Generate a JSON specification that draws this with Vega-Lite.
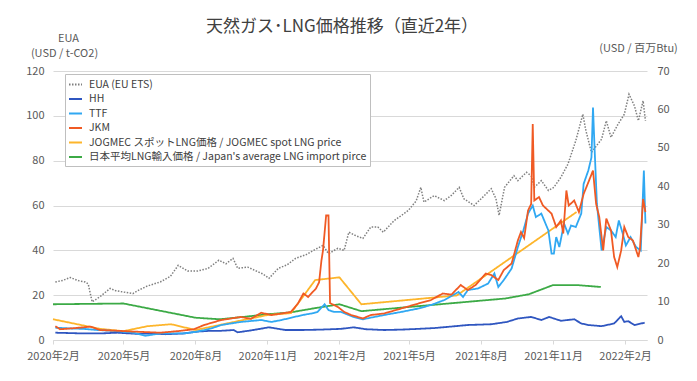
{
  "$schema": "https://vega.github.io/schema/vega-lite/v6.json",
  "width": 594,
  "height": 269,
  "autosize": {"type": "none"},
  "padding": {"left": 53, "top": 71, "right": 50, "bottom": 41},
  "background": "white",
  "title": {"text": "天然ガス･LNG価格推移（直近2年）", "font": "Noto Sans CJK JP", "fontSize": 17, "fontWeight": "normal", "color": "#404040", "anchor": "middle", "frame": "group", "offset": -4, "dx": -8},
  "config": {
    "view": {"stroke": null},
    "font": "Noto Sans CJK JP",
    "axis": {"labelFont": "Noto Sans CJK JP", "labelFontSize": 11, "labelColor": "#595959", "titleFont": "Noto Sans CJK JP", "titleFontSize": 11, "titleColor": "#595959", "titleFontWeight": "normal"},
    "legend": {"labelFont": "Noto Sans CJK JP", "labelFontSize": 10.5, "labelColor": "#404040", "labelLimit": 0}
  },
  "data": {"values": [
    {"s":"EUA","d":"2020-02-04","v":25.9},{"s":"EUA","d":"2020-02-13","v":26.5},{"s":"EUA","d":"2020-02-23","v":27.9},{"s":"EUA","d":"2020-03-04","v":26.5},{"s":"EUA","d":"2020-03-13","v":25.9},{"s":"EUA","d":"2020-03-17","v":25.0},{"s":"EUA","d":"2020-03-22","v":17.0},{"s":"EUA","d":"2020-04-01","v":19.3},{"s":"EUA","d":"2020-04-14","v":23.0},{"s":"EUA","d":"2020-04-21","v":22.0},{"s":"EUA","d":"2020-04-29","v":21.5},{"s":"EUA","d":"2020-05-13","v":20.7},{"s":"EUA","d":"2020-05-22","v":22.5},{"s":"EUA","d":"2020-05-31","v":24.0},{"s":"EUA","d":"2020-06-17","v":25.9},{"s":"EUA","d":"2020-06-30","v":28.4},{"s":"EUA","d":"2020-07-10","v":33.3},{"s":"EUA","d":"2020-07-22","v":30.8},{"s":"EUA","d":"2020-08-04","v":30.8},{"s":"EUA","d":"2020-08-17","v":31.9},{"s":"EUA","d":"2020-08-31","v":35.6},{"s":"EUA","d":"2020-09-09","v":34.0},{"s":"EUA","d":"2020-09-18","v":36.4},{"s":"EUA","d":"2020-09-24","v":32.0},{"s":"EUA","d":"2020-10-07","v":32.5},{"s":"EUA","d":"2020-10-20","v":30.4},{"s":"EUA","d":"2020-10-26","v":29.5},{"s":"EUA","d":"2020-11-03","v":27.5},{"s":"EUA","d":"2020-11-15","v":32.0},{"s":"EUA","d":"2020-11-26","v":33.5},{"s":"EUA","d":"2020-12-07","v":36.4},{"s":"EUA","d":"2020-12-20","v":38.0},{"s":"EUA","d":"2020-12-30","v":40.0},{"s":"EUA","d":"2021-01-11","v":42.2},{"s":"EUA","d":"2021-01-18","v":38.5},{"s":"EUA","d":"2021-01-30","v":40.9},{"s":"EUA","d":"2021-02-07","v":40.0},{"s":"EUA","d":"2021-02-13","v":48.1},{"s":"EUA","d":"2021-02-22","v":46.5},{"s":"EUA","d":"2021-03-03","v":45.3},{"s":"EUA","d":"2021-03-13","v":50.4},{"s":"EUA","d":"2021-03-22","v":50.4},{"s":"EUA","d":"2021-03-29","v":48.1},{"s":"EUA","d":"2021-04-12","v":53.3},{"s":"EUA","d":"2021-04-21","v":55.5},{"s":"EUA","d":"2021-04-30","v":57.8},{"s":"EUA","d":"2021-05-10","v":62.0},{"s":"EUA","d":"2021-05-16","v":68.1},{"s":"EUA","d":"2021-05-20","v":61.5},{"s":"EUA","d":"2021-06-02","v":64.4},{"s":"EUA","d":"2021-06-15","v":62.2},{"s":"EUA","d":"2021-06-24","v":64.5},{"s":"EUA","d":"2021-07-04","v":68.1},{"s":"EUA","d":"2021-07-10","v":63.0},{"s":"EUA","d":"2021-07-23","v":60.0},{"s":"EUA","d":"2021-08-04","v":64.0},{"s":"EUA","d":"2021-08-14","v":67.5},{"s":"EUA","d":"2021-08-20","v":63.0},{"s":"EUA","d":"2021-08-24","v":55.6},{"s":"EUA","d":"2021-08-31","v":68.1},{"s":"EUA","d":"2021-09-12","v":73.3},{"s":"EUA","d":"2021-09-17","v":71.1},{"s":"EUA","d":"2021-09-28","v":74.8},{"s":"EUA","d":"2021-10-04","v":73.3},{"s":"EUA","d":"2021-10-08","v":68.1},{"s":"EUA","d":"2021-10-17","v":71.1},{"s":"EUA","d":"2021-10-26","v":66.7},{"s":"EUA","d":"2021-11-02","v":68.1},{"s":"EUA","d":"2021-11-11","v":72.6},{"s":"EUA","d":"2021-11-20","v":78.5},{"s":"EUA","d":"2021-11-30","v":88.9},{"s":"EUA","d":"2021-12-09","v":100.7},{"s":"EUA","d":"2021-12-13","v":93.3},{"s":"EUA","d":"2021-12-20","v":83.7},{"s":"EUA","d":"2022-01-02","v":89.6},{"s":"EUA","d":"2022-01-08","v":97.8},{"s":"EUA","d":"2022-01-14","v":90.4},{"s":"EUA","d":"2022-01-23","v":96.3},{"s":"EUA","d":"2022-01-31","v":100.7},{"s":"EUA","d":"2022-02-06","v":109.6},{"s":"EUA","d":"2022-02-13","v":104.4},{"s":"EUA","d":"2022-02-18","v":97.8},{"s":"EUA","d":"2022-02-24","v":106.7},{"s":"EUA","d":"2022-02-27","v":97.8},

    {"s":"JPN","d":"2020-02-01","v":9.3},{"s":"JPN","d":"2020-05-01","v":9.5},{"s":"JPN","d":"2020-08-01","v":5.8},{"s":"JPN","d":"2020-09-01","v":5.4},{"s":"JPN","d":"2020-10-01","v":6.0},{"s":"JPN","d":"2020-11-01","v":6.7},{"s":"JPN","d":"2020-12-01","v":7.2},{"s":"JPN","d":"2021-01-01","v":8.3},{"s":"JPN","d":"2021-02-01","v":9.3},{"s":"JPN","d":"2021-03-01","v":7.5},{"s":"JPN","d":"2021-09-01","v":10.8},{"s":"JPN","d":"2021-10-01","v":11.9},{"s":"JPN","d":"2021-11-01","v":14.3},{"s":"JPN","d":"2021-12-01","v":14.3},{"s":"JPN","d":"2022-01-01","v":13.8},

    {"s":"JOG","d":"2020-02-01","v":5.4},{"s":"JOG","d":"2020-04-01","v":2.9},{"s":"JOG","d":"2020-05-01","v":2.3},{"s":"JOG","d":"2020-06-01","v":3.6},{"s":"JOG","d":"2020-07-01","v":4.1},{"s":"JOG","d":"2020-08-01","v":2.6},{"s":"JOG","d":"2020-09-01","v":3.9},{"s":"JOG","d":"2020-10-01","v":5.2},{"s":"JOG","d":"2020-11-01","v":6.5},{"s":"JOG","d":"2020-12-01","v":7.0},{"s":"JOG","d":"2021-01-01","v":15.6},{"s":"JOG","d":"2021-02-01","v":16.3},{"s":"JOG","d":"2021-03-01","v":9.3},{"s":"JOG","d":"2021-07-01","v":11.6},{"s":"JOG","d":"2021-12-01","v":33.3},

    {"s":"HH","d":"2020-02-04","v":1.9},{"s":"HH","d":"2020-02-23","v":1.8},{"s":"HH","d":"2020-03-11","v":1.7},{"s":"HH","d":"2020-04-01","v":1.7},{"s":"HH","d":"2020-04-23","v":1.9},{"s":"HH","d":"2020-05-18","v":1.6},{"s":"HH","d":"2020-06-04","v":1.7},{"s":"HH","d":"2020-06-24","v":1.5},{"s":"HH","d":"2020-07-17","v":1.7},{"s":"HH","d":"2020-08-04","v":2.2},{"s":"HH","d":"2020-08-21","v":2.4},{"s":"HH","d":"2020-09-03","v":2.4},{"s":"HH","d":"2020-09-19","v":2.6},{"s":"HH","d":"2020-09-24","v":2.0},{"s":"HH","d":"2020-10-11","v":2.5},{"s":"HH","d":"2020-11-03","v":3.3},{"s":"HH","d":"2020-11-24","v":2.6},{"s":"HH","d":"2020-12-16","v":2.6},{"s":"HH","d":"2021-01-08","v":2.7},{"s":"HH","d":"2021-02-03","v":2.9},{"s":"HH","d":"2021-02-19","v":3.3},{"s":"HH","d":"2021-03-07","v":2.8},{"s":"HH","d":"2021-03-30","v":2.6},{"s":"HH","d":"2021-04-21","v":2.7},{"s":"HH","d":"2021-05-13","v":2.9},{"s":"HH","d":"2021-06-02","v":3.1},{"s":"HH","d":"2021-06-24","v":3.5},{"s":"HH","d":"2021-07-15","v":3.9},{"s":"HH","d":"2021-08-14","v":4.1},{"s":"HH","d":"2021-09-03","v":4.7},{"s":"HH","d":"2021-09-17","v":5.6},{"s":"HH","d":"2021-10-04","v":6.0},{"s":"HH","d":"2021-10-17","v":5.2},{"s":"HH","d":"2021-10-27","v":6.0},{"s":"HH","d":"2021-11-11","v":5.0},{"s":"HH","d":"2021-11-28","v":5.4},{"s":"HH","d":"2021-12-07","v":4.3},{"s":"HH","d":"2021-12-16","v":3.9},{"s":"HH","d":"2022-01-02","v":3.6},{"s":"HH","d":"2022-01-18","v":4.3},{"s":"HH","d":"2022-01-27","v":6.2},{"s":"HH","d":"2022-01-31","v":4.7},{"s":"HH","d":"2022-02-05","v":4.9},{"s":"HH","d":"2022-02-13","v":3.9},{"s":"HH","d":"2022-02-26","v":4.5},

    {"s":"TTF","d":"2020-02-04","v":3.2},{"s":"TTF","d":"2020-02-23","v":3.0},{"s":"TTF","d":"2020-03-11","v":2.9},{"s":"TTF","d":"2020-03-29","v":2.6},{"s":"TTF","d":"2020-04-23","v":2.3},{"s":"TTF","d":"2020-05-10","v":2.0},{"s":"TTF","d":"2020-05-18","v":1.7},{"s":"TTF","d":"2020-05-29","v":1.1},{"s":"TTF","d":"2020-06-17","v":1.7},{"s":"TTF","d":"2020-07-17","v":1.7},{"s":"TTF","d":"2020-08-04","v":2.2},{"s":"TTF","d":"2020-08-21","v":3.0},{"s":"TTF","d":"2020-09-03","v":3.9},{"s":"TTF","d":"2020-09-28","v":4.7},{"s":"TTF","d":"2020-10-24","v":5.2},{"s":"TTF","d":"2020-11-06","v":4.7},{"s":"TTF","d":"2020-11-19","v":5.2},{"s":"TTF","d":"2020-12-16","v":6.5},{"s":"TTF","d":"2020-12-30","v":7.0},{"s":"TTF","d":"2021-01-04","v":7.3},{"s":"TTF","d":"2021-01-13","v":9.3},{"s":"TTF","d":"2021-01-18","v":7.8},{"s":"TTF","d":"2021-01-25","v":7.3},{"s":"TTF","d":"2021-02-03","v":7.3},{"s":"TTF","d":"2021-02-19","v":6.0},{"s":"TTF","d":"2021-03-03","v":5.4},{"s":"TTF","d":"2021-03-30","v":6.5},{"s":"TTF","d":"2021-04-21","v":7.3},{"s":"TTF","d":"2021-05-13","v":8.2},{"s":"TTF","d":"2021-05-29","v":9.1},{"s":"TTF","d":"2021-06-15","v":10.4},{"s":"TTF","d":"2021-07-03","v":12.5},{"s":"TTF","d":"2021-07-09","v":11.2},{"s":"TTF","d":"2021-07-15","v":13.0},{"s":"TTF","d":"2021-07-28","v":13.4},{"s":"TTF","d":"2021-08-10","v":14.7},{"s":"TTF","d":"2021-08-18","v":17.3},{"s":"TTF","d":"2021-08-23","v":13.8},{"s":"TTF","d":"2021-08-30","v":15.6},{"s":"TTF","d":"2021-09-09","v":18.6},{"s":"TTF","d":"2021-09-17","v":24.2},{"s":"TTF","d":"2021-09-24","v":28.5},{"s":"TTF","d":"2021-09-30","v":32.9},{"s":"TTF","d":"2021-10-06","v":35.0},{"s":"TTF","d":"2021-10-10","v":32.0},{"s":"TTF","d":"2021-10-17","v":32.9},{"s":"TTF","d":"2021-10-26","v":28.5},{"s":"TTF","d":"2021-10-30","v":22.5},{"s":"TTF","d":"2021-11-02","v":22.5},{"s":"TTF","d":"2021-11-05","v":26.8},{"s":"TTF","d":"2021-11-09","v":24.2},{"s":"TTF","d":"2021-11-15","v":30.3},{"s":"TTF","d":"2021-11-20","v":27.7},{"s":"TTF","d":"2021-11-24","v":29.8},{"s":"TTF","d":"2021-11-30","v":29.4},{"s":"TTF","d":"2021-12-07","v":32.9},{"s":"TTF","d":"2021-12-10","v":40.6},{"s":"TTF","d":"2021-12-16","v":44.1},{"s":"TTF","d":"2021-12-20","v":47.5},{"s":"TTF","d":"2021-12-22","v":60.5},{"s":"TTF","d":"2021-12-24","v":50.0},{"s":"TTF","d":"2021-12-27","v":35.4},{"s":"TTF","d":"2022-01-02","v":23.3},{"s":"TTF","d":"2022-01-08","v":29.4},{"s":"TTF","d":"2022-01-14","v":28.5},{"s":"TTF","d":"2022-01-20","v":26.8},{"s":"TTF","d":"2022-01-24","v":31.1},{"s":"TTF","d":"2022-01-29","v":27.7},{"s":"TTF","d":"2022-02-02","v":24.6},{"s":"TTF","d":"2022-02-08","v":26.8},{"s":"TTF","d":"2022-02-15","v":24.2},{"s":"TTF","d":"2022-02-21","v":23.3},{"s":"TTF","d":"2022-02-25","v":44.1},{"s":"TTF","d":"2022-02-27","v":30.3},

    {"s":"JKM","d":"2020-02-04","v":3.6},{"s":"JKM","d":"2020-02-10","v":2.8},{"s":"JKM","d":"2020-02-23","v":3.0},{"s":"JKM","d":"2020-03-11","v":3.3},{"s":"JKM","d":"2020-03-20","v":3.5},{"s":"JKM","d":"2020-04-01","v":2.6},{"s":"JKM","d":"2020-04-23","v":2.4},{"s":"JKM","d":"2020-05-13","v":2.2},{"s":"JKM","d":"2020-06-17","v":1.9},{"s":"JKM","d":"2020-07-09","v":2.3},{"s":"JKM","d":"2020-07-30","v":2.8},{"s":"JKM","d":"2020-08-12","v":3.9},{"s":"JKM","d":"2020-09-03","v":5.2},{"s":"JKM","d":"2020-09-28","v":6.0},{"s":"JKM","d":"2020-10-11","v":5.5},{"s":"JKM","d":"2020-10-24","v":7.1},{"s":"JKM","d":"2020-11-06","v":6.5},{"s":"JKM","d":"2020-11-19","v":6.9},{"s":"JKM","d":"2020-12-01","v":7.3},{"s":"JKM","d":"2020-12-10","v":9.5},{"s":"JKM","d":"2020-12-17","v":12.1},{"s":"JKM","d":"2020-12-23","v":11.2},{"s":"JKM","d":"2021-01-02","v":13.4},{"s":"JKM","d":"2021-01-06","v":15.0},{"s":"JKM","d":"2021-01-09","v":20.7},{"s":"JKM","d":"2021-01-11","v":23.3},{"s":"JKM","d":"2021-01-15","v":32.4},{"s":"JKM","d":"2021-01-18","v":32.4},{"s":"JKM","d":"2021-01-20","v":9.6},{"s":"JKM","d":"2021-01-30","v":8.6},{"s":"JKM","d":"2021-02-07","v":7.3},{"s":"JKM","d":"2021-02-16","v":6.5},{"s":"JKM","d":"2021-03-03","v":5.6},{"s":"JKM","d":"2021-03-13","v":6.5},{"s":"JKM","d":"2021-03-30","v":6.9},{"s":"JKM","d":"2021-04-21","v":8.2},{"s":"JKM","d":"2021-05-13","v":9.5},{"s":"JKM","d":"2021-05-29","v":10.4},{"s":"JKM","d":"2021-06-13","v":12.1},{"s":"JKM","d":"2021-06-24","v":11.8},{"s":"JKM","d":"2021-07-06","v":14.3},{"s":"JKM","d":"2021-07-15","v":13.0},{"s":"JKM","d":"2021-07-25","v":14.3},{"s":"JKM","d":"2021-08-07","v":17.3},{"s":"JKM","d":"2021-08-14","v":16.9},{"s":"JKM","d":"2021-08-23","v":15.6},{"s":"JKM","d":"2021-08-30","v":18.2},{"s":"JKM","d":"2021-09-09","v":19.9},{"s":"JKM","d":"2021-09-17","v":25.9},{"s":"JKM","d":"2021-09-21","v":28.1},{"s":"JKM","d":"2021-09-25","v":26.5},{"s":"JKM","d":"2021-09-30","v":33.7},{"s":"JKM","d":"2021-10-04","v":35.4},{"s":"JKM","d":"2021-10-06","v":56.2},{"s":"JKM","d":"2021-10-08","v":36.3},{"s":"JKM","d":"2021-10-14","v":37.2},{"s":"JKM","d":"2021-10-19","v":35.0},{"s":"JKM","d":"2021-10-30","v":32.9},{"s":"JKM","d":"2021-11-05","v":29.4},{"s":"JKM","d":"2021-11-11","v":31.1},{"s":"JKM","d":"2021-11-14","v":27.7},{"s":"JKM","d":"2021-11-18","v":38.9},{"s":"JKM","d":"2021-11-21","v":35.0},{"s":"JKM","d":"2021-11-28","v":36.3},{"s":"JKM","d":"2021-12-04","v":33.3},{"s":"JKM","d":"2021-12-10","v":38.0},{"s":"JKM","d":"2021-12-16","v":41.0},{"s":"JKM","d":"2021-12-22","v":44.1},{"s":"JKM","d":"2021-12-26","v":35.4},{"s":"JKM","d":"2021-12-30","v":32.0},{"s":"JKM","d":"2022-01-04","v":23.3},{"s":"JKM","d":"2022-01-08","v":31.6},{"s":"JKM","d":"2022-01-14","v":28.5},{"s":"JKM","d":"2022-01-18","v":21.6},{"s":"JKM","d":"2022-01-22","v":19.0},{"s":"JKM","d":"2022-01-27","v":23.3},{"s":"JKM","d":"2022-01-31","v":29.4},{"s":"JKM","d":"2022-02-05","v":26.8},{"s":"JKM","d":"2022-02-11","v":25.9},{"s":"JKM","d":"2022-02-18","v":21.6},{"s":"JKM","d":"2022-02-20","v":23.8},{"s":"JKM","d":"2022-02-24","v":36.7},{"s":"JKM","d":"2022-02-27","v":33.3}
  ]},
  "encoding": {
    "x": {
      "field": "d", "type": "temporal",
      "scale": {"type": "utc", "domain": [{"year": 2020, "month": 2, "date": 1, "utc": true}, {"year": 2022, "month": 3, "date": 1, "utc": true}]},
      "axis": {
        "title": null, "grid": false, "domain": true, "domainColor": "#d9d9d9", "ticks": true, "tickColor": "#d9d9d9", "tickSize": 4, "labelPadding": 6,
        "values": [
          {"year": 2020, "month": 2, "date": 1, "utc": true}, {"year": 2020, "month": 5, "date": 1, "utc": true}, {"year": 2020, "month": 8, "date": 1, "utc": true}, {"year": 2020, "month": 11, "date": 1, "utc": true},
          {"year": 2021, "month": 2, "date": 1, "utc": true}, {"year": 2021, "month": 5, "date": 1, "utc": true}, {"year": 2021, "month": 8, "date": 1, "utc": true}, {"year": 2021, "month": 11, "date": 1, "utc": true},
          {"year": 2022, "month": 2, "date": 1, "utc": true}
        ],
        "labelExpr": "utcFormat(datum.value, '%Y年%-m月')", "labelFlush": false, "labelOverlap": false
      }
    },
    "color": {
      "field": "s", "type": "nominal",
      "scale": {"domain": ["EUA", "HH", "TTF", "JKM", "JOG", "JPN"], "range": ["#7f7f7f", "#2f56c0", "#30a8f2", "#f05a24", "#fdb52b", "#3caa46"]},
      "legend": {"title": null, "orient": "none", "legendX": 12, "legendY": 3, "direction": "vertical", "symbolType": "stroke", "symbolSize": 169, "symbolStrokeWidth": 2, "labelOffset": 6, "rowPadding": 1.5, "padding": 3, "strokeColor": "#bfbfbf", "fillColor": "white", "labelLimit": 0,
        "labelExpr": "datum.label == 'EUA' ? 'EUA (EU ETS)' : datum.label == 'JOG' ? 'JOGMEC スポットLNG価格 / JOGMEC spot LNG price' : datum.label == 'JPN' ? \"日本平均LNG輸入価格 / Japan's average LNG import pirce\" : datum.label"}
    },
    "strokeDash": {
      "field": "s", "type": "nominal",
      "scale": {"domain": ["EUA", "HH", "TTF", "JKM", "JOG", "JPN"], "range": [[1.5, 1.5], [1, 0], [1, 0], [1, 0], [1, 0], [1, 0]]},
      "legend": {"title": null, "orient": "none", "legendX": 12, "legendY": 3, "direction": "vertical", "symbolType": "stroke", "symbolSize": 169, "symbolStrokeWidth": 2, "labelOffset": 6, "rowPadding": 1.5, "padding": 3, "strokeColor": "#bfbfbf", "fillColor": "white", "labelLimit": 0,
        "labelExpr": "datum.label == 'EUA' ? 'EUA (EU ETS)' : datum.label == 'JOG' ? 'JOGMEC スポットLNG価格 / JOGMEC spot LNG price' : datum.label == 'JPN' ? \"日本平均LNG輸入価格 / Japan's average LNG import pirce\" : datum.label"}
    }
  },
  "layer": [
    {
      "transform": [{"filter": "datum.s == 'EUA'"}],
      "mark": {"type": "line", "strokeWidth": 1.5},
      "encoding": {
        "y": {"field": "v", "type": "quantitative", "scale": {"domain": [0, 120]},
          "axis": {"orient": "left", "values": [0, 20, 40, 60, 80, 100, 120], "grid": true, "gridColor": "#d9d9d9", "domain": false, "ticks": false, "labelPadding": 9,
            "title": "(USD / t-CO2)", "titleAngle": 0, "titleAlign": "center", "titleBaseline": "top", "titleX": 11, "titleY": -24}}
      }
    },
    {
      "transform": [{"filter": "datum.s != 'EUA'"}],
      "mark": {"type": "line", "strokeWidth": 1.8},
      "encoding": {
        "x": {"field": "d", "type": "temporal",
          "axis": {"orient": "top", "labels": false, "ticks": false, "domain": false, "grid": false,
            "title": "EUA", "titleAngle": 0, "titleAlign": "center", "titleBaseline": "top", "titleX": 15, "titleY": -39}},
        "y": {"field": "v", "type": "quantitative", "scale": {"domain": [0, 70]},
          "axis": {"orient": "right", "values": [0, 10, 20, 30, 40, 50, 60, 70], "grid": false, "domain": false, "ticks": false, "labelPadding": 10,
            "title": "(USD / 百万Btu)", "titleAngle": 0, "titleAlign": "center", "titleBaseline": "top", "titleX": -9, "titleY": -29}}
      }
    }
  ],
  "resolve": {"scale": {"y": "independent"}, "axis": {"x": "independent"}}
}
